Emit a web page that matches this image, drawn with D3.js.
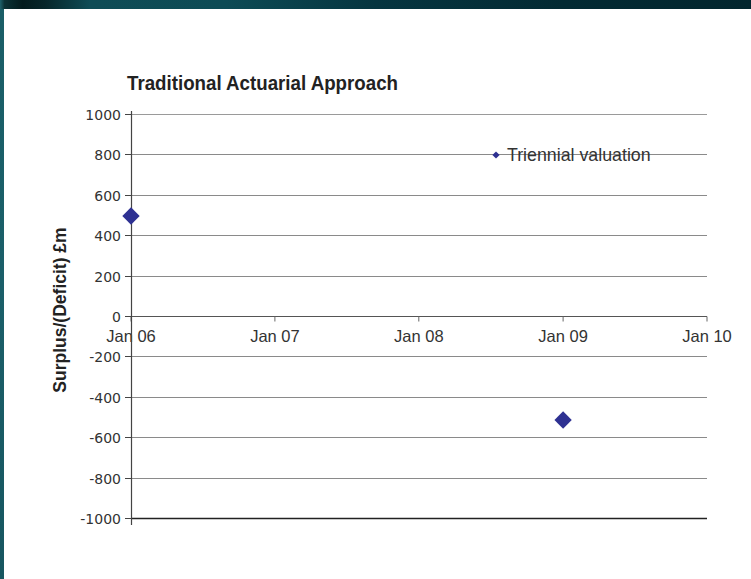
<!DOCTYPE html>
<html>
<head>
<meta charset="utf-8">
<script src="https://cdn.jsdelivr.net/npm/d3@7/dist/d3.min.js"></script>
<style>
  html, body { margin: 0; padding: 0; background: #fff; }
  svg { display: block; }
</style>
</head>
<body>
<svg id="chart" width="751" height="579"></svg>
<script>
// ---- Data ----
const title = "Traditional Actuarial Approach";
const yAxisTitle = "Surplus/(Deficit) £m";
const seriesName = "Triennial valuation";
const valuationDates = ["2006-01-01", "2009-01-01"];
const valuationValues = [495, -515];
const xTickDates = ["2006-01-01", "2007-01-01", "2008-01-01", "2009-01-01", "2010-01-01"];
const yTickValues = [-1000, -800, -600, -400, -200, 0, 200, 400, 600, 800, 1000];

// ---- Setup ----
const svg = d3.select("#chart");
const W = 751, H = 579;
const parse = d3.utcParse("%Y-%m-%d");
const fmt = d3.utcFormat("%b %y");

// background frame
const defs = svg.append("defs");
const gTop = defs.append("linearGradient").attr("id", "topband").attr("x1", "0").attr("x2", "1").attr("y1", "0").attr("y2", "0");
[[0, "#1d616b"], [0.006, "#0b3236"], [0.03, "#041b1d"], [0.06, "#07262a"], [0.12, "#0f4c56"], [0.3, "#0d4b55"], [0.5, "#063540"], [0.75, "#032a33"], [1, "#03262e"]]
  .forEach(([o, c]) => gTop.append("stop").attr("offset", o).attr("stop-color", c));
const gLeft = defs.append("linearGradient").attr("id", "leftband").attr("x1", "0").attr("x2", "0").attr("y1", "0").attr("y2", "1");
[[0, "#1a5e67"], [0.5, "#1b5f69"], [1, "#175660"]]
  .forEach(([o, c]) => gLeft.append("stop").attr("offset", o).attr("stop-color", c));

svg.append("rect").attr("x", 0).attr("y", 0).attr("width", W).attr("height", H).attr("fill", "url(#leftband)");
svg.append("rect").attr("x", 0).attr("y", 0).attr("width", W).attr("height", 9).attr("fill", "url(#topband)");
svg.append("rect").attr("x", 4).attr("y", 9).attr("width", W - 4).attr("height", H - 9).attr("fill", "#ffffff");

// ---- Scales ----
const x = d3.scaleUtc()
  .domain([parse(xTickDates[0]), parse(xTickDates[xTickDates.length - 1])])
  .range([131, 707]);
const y = d3.scaleLinear().domain([-1000, 1000]).range([518, 114]);

// ---- Gridlines ----
const grid = svg.append("g");
grid.selectAll("line")
  .data(yTickValues.filter(v => v !== 0 && v !== -1000))
  .join("line")
  .attr("x1", x.range()[0]).attr("x2", x.range()[1])
  .attr("y1", d => Math.round(y(d)) + 0.5).attr("y2", d => Math.round(y(d)) + 0.5)
  .attr("stroke", d => d === 1000 ? "#9a9a9a" : "#8a8a8a")
  .attr("stroke-width", 1);

// bottom line (-1000)
svg.append("line")
  .attr("x1", x.range()[0]).attr("x2", x.range()[1])
  .attr("y1", Math.round(y(-1000)) + 0.5).attr("y2", Math.round(y(-1000)) + 0.5)
  .attr("stroke", "#222").attr("stroke-width", 1.4);

// ---- X axis at zero ----
const xAxisG = svg.append("g").attr("transform", `translate(0,${Math.round(y(0)) + 0.5})`);
xAxisG.append("line")
  .attr("x1", x.range()[0]).attr("x2", x.range()[1])
  .attr("stroke", "#555").attr("stroke-width", 1);
const xt = xAxisG.selectAll("g.xt").data(xTickDates.map(parse)).join("g").attr("class", "xt")
  .attr("transform", d => `translate(${x(d)},0)`);
xt.append("line").attr("y1", 0).attr("y2", 5).attr("stroke", "#666").attr("stroke-width", 1);
xt.append("text")
  .attr("y", 25).attr("text-anchor", "middle")
  .attr("font-family", "'Liberation Sans', Arial, sans-serif")
  .attr("font-size", 16.5).attr("fill", "#333")
  .text(d => fmt(d));

// ---- Y axis ----
const y0 = 131.5;
svg.append("line").attr("x1", y0).attr("x2", y0).attr("y1", 111).attr("y2", 525)
  .attr("stroke", "#444").attr("stroke-width", 1.2);
const yt = svg.append("g").selectAll("g").data(yTickValues).join("g")
  .attr("transform", d => `translate(0,${Math.round(y(d)) + 0.5})`);
yt.append("line").attr("x1", 125).attr("x2", y0).attr("stroke", "#444").attr("stroke-width", 1);
yt.append("text")
  .attr("x", 121).attr("dy", "0.36em").attr("text-anchor", "end")
  .attr("font-family", "'DejaVu Sans', sans-serif")
  .attr("font-size", 14).attr("fill", "#333")
  .text(d => d);

// ---- Titles ----
svg.append("text")
  .attr("x", 127).attr("y", 90)
  .attr("font-family", "'Liberation Sans Narrow', 'Liberation Sans', Arial, sans-serif")
  .attr("font-weight", "bold").attr("font-size", 21).attr("fill", "#222")
  .attr("textLength", 271).attr("lengthAdjust", "spacingAndGlyphs")
  .text(title);

svg.append("text")
  .attr("transform", `translate(66,${(y(1000) + y(-1000)) / 2 - 6}) rotate(-90)`)
  .attr("text-anchor", "middle")
  .attr("font-family", "'Liberation Sans', Arial, sans-serif")
  .attr("font-weight", "bold").attr("font-size", 17.5).attr("fill", "#222")
  .text(yAxisTitle);

// ---- Data markers ----
const pts = valuationDates.map((d, i) => ({ date: parse(d), value: valuationValues[i] }));
const diamond = d3.symbol().type(d3.symbolSquare).size(150);
svg.append("g").selectAll("path").data(pts).join("path")
  .attr("d", diamond)
  .attr("transform", d => `translate(${x(d.date)},${y(d.value)}) rotate(45)`)
  .attr("fill", "#2e3192");

// ---- Legend ----
const lg = svg.append("g").attr("transform", "translate(496,155)");
lg.append("path").attr("d", d3.symbol().type(d3.symbolSquare).size(26)).attr("transform", "rotate(45)").attr("fill", "#2e3192");
lg.append("text").attr("x", 11).attr("y", 6)
  .attr("font-family", "'Liberation Sans', Arial, sans-serif")
  .attr("font-size", 17.8).attr("fill", "#333")
  .text(seriesName);
</script>
</body>
</html>
